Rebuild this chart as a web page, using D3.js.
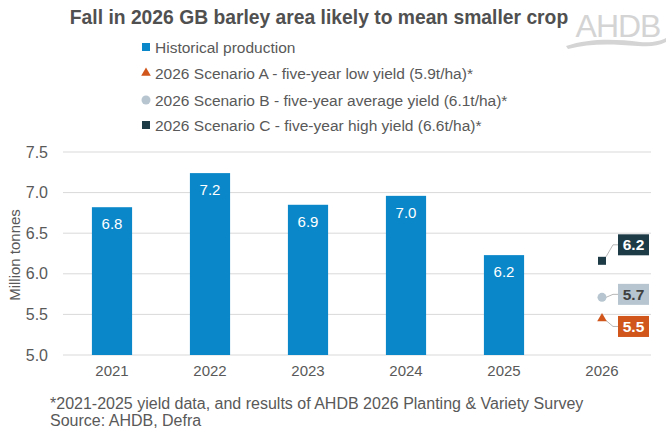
<!DOCTYPE html>
<html><head><meta charset="utf-8">
<script src="https://cdn.jsdelivr.net/npm/d3@7"></script>
<style>body{margin:0;background:#fff;} svg{display:block;font-family:"Liberation Sans",Arial,sans-serif;}</style>
</head><body>
<svg id="c" width="666" height="436"></svg>
<script>
const years = ["2021","2022","2023","2024","2025","2026"];
const histYears = ["2021","2022","2023","2024","2025"];
const histValues = [6.82, 7.24, 6.85, 6.96, 6.23];
const histLabels = ["6.8","7.2","6.9","7.0","6.2"];
const scenarioNames = ["2026 Scenario A - five-year low yield (5.9t/ha)*","2026 Scenario B - five-year average yield (6.1t/ha)*","2026 Scenario C - five-year high yield (6.6t/ha)*"];
const scenarioValues = [5.45, 5.71, 6.16];
const scenarioLabels = ["5.5","5.7","6.2"];
const yTicks = [5.0, 5.5, 6.0, 6.5, 7.0, 7.5];

const svg = d3.select("#c");
const x = d3.scaleBand().domain(years).range([63, 651]).paddingInner(0.59).paddingOuter(0.295);
const y = d3.scaleLinear().domain([5, 7.5]).range([355, 152]);
const grey = "#595959";

// title
svg.append("text").attr("x", 319).attr("y", 24).attr("text-anchor","middle")
  .attr("font-weight","bold").attr("font-size",19.3).attr("fill","#505050")
  .text("Fall in 2026 GB barley area likely to mean smaller crop");

// logo
const logo = svg.append("g");
logo.append("text").attr("x", 618).attr("y", 37).attr("text-anchor","middle")
  .attr("font-size", 32).attr("fill","#d4d4d4").attr("letter-spacing",-1).text("AHDB");
logo.append("path").attr("d","M566,46 C590,38 615,39 640,42 C652,43 660,41 666,38 L666,42 C658,46 650,47 638,46 C612,44 590,43 568,49 Z")
  .attr("fill","#d4d4d4");

// legend
const legendItems = [
  {label:"Historical production", shape:"square", color:"#0a87c9"},
  {label:scenarioNames[0], shape:"triangle", color:"#d0561b"},
  {label:scenarioNames[1], shape:"circle", color:"#b6c5cf"},
  {label:scenarioNames[2], shape:"square", color:"#1d3a47"}
];
const ly = [47, 73, 100, 125];
legendItems.forEach((d,i)=>{
  const g = svg.append("g").attr("transform",`translate(146,${ly[i]})`);
  if (d.shape==="square") g.append("rect").attr("x",-4).attr("y",-4).attr("width",8).attr("height",8).attr("fill",d.color);
  else if (d.shape==="circle") g.append("circle").attr("r",4.5).attr("fill",d.color);
  else g.append("path").attr("d",d3.symbol(d3.symbolTriangle,40)()).attr("fill",d.color);
  g.append("text").attr("x",9).attr("y",5.5).attr("font-size",15.5).attr("fill",grey).text(d.label);
});

// grid
svg.append("g").selectAll("line").data(yTicks).join("line")
  .attr("x1",63).attr("x2",651).attr("y1",d=>y(d)).attr("y2",d=>y(d))
  .attr("stroke","#d9d9d9").attr("stroke-width",1);

// y axis
const yAxis = svg.append("g").attr("transform","translate(54,0)")
  .call(d3.axisLeft(y).tickValues(yTicks).tickFormat(d3.format(".1f")).tickSize(0).tickPadding(6));
yAxis.select(".domain").remove();
yAxis.selectAll("text").attr("font-size",16).attr("fill",grey).attr("font-family","Liberation Sans, Arial, sans-serif");

svg.append("text").attr("transform","translate(20,255) rotate(-90)").attr("text-anchor","middle")
  .attr("font-size",15).attr("fill",grey).text("Million tonnes");

// x axis
const xAxis = svg.append("g").attr("transform","translate(0,359)")
  .call(d3.axisBottom(x).tickSize(0).tickPadding(6));
xAxis.select(".domain").remove();
xAxis.selectAll("text").attr("font-size",15).attr("fill",grey).attr("font-family","Liberation Sans, Arial, sans-serif");

// bars
svg.append("g").selectAll("rect").data(histYears).join("rect")
  .attr("x",d=>x(d)).attr("width",x.bandwidth())
  .attr("y",(d,i)=>y(histValues[i])).attr("height",(d,i)=>y(5)-y(histValues[i]))
  .attr("fill","#0a87c9");
svg.append("g").selectAll("text").data(histYears).join("text")
  .attr("x",d=>x(d)+x.bandwidth()/2).attr("y",(d,i)=>y(histValues[i])+22)
  .attr("text-anchor","middle").attr("font-size",15).attr("fill","#fff")
  .text((d,i)=>histLabels[i]);

// scenarios
const cx = x("2026") + x.bandwidth()/2;
const scen = [
  {v:scenarioValues[0], lab:scenarioLabels[0], shape:"triangle", color:"#d0561b", box:"#d0561b", tc:"#fff", dy:8},
  {v:scenarioValues[1], lab:scenarioLabels[1], shape:"circle", color:"#b6c5cf", box:"#b6c5cf", tc:"#404040", dy:-3},
  {v:scenarioValues[2], lab:scenarioLabels[2], shape:"square", color:"#1d3a47", box:"#1d3a47", tc:"#fff", dy:-16}
];
scen.forEach(s=>{
  const py = y(s.v);
  const g = svg.append("g");
  const bx = 618, by = py + s.dy;
  const sx = cx + 4, sy = py + (s.dy>0?2:(s.dy<-5?-4:0));
  g.append("path").attr("d",`M${sx},${sy} L${bx-5},${by} L${bx},${by}`)
    .attr("fill","none").attr("stroke","#a6a6a6").attr("stroke-width",0.8);
  if (s.shape==="square") g.append("rect").attr("x",cx-4).attr("y",py-4).attr("width",8).attr("height",8).attr("fill",s.color);
  else if (s.shape==="circle") g.append("circle").attr("cx",cx).attr("cy",py).attr("r",4.5).attr("fill",s.color);
  else g.append("path").attr("transform",`translate(${cx},${py})`).attr("d",d3.symbol(d3.symbolTriangle,40)()).attr("fill",s.color);
  g.append("rect").attr("x",bx).attr("y",by-10.5).attr("width",31).attr("height",21).attr("fill",s.box);
  g.append("text").attr("x",bx+15.5).attr("y",by+5.5).attr("text-anchor","middle")
    .attr("font-size",15.5).attr("font-weight","bold").attr("fill",s.tc).text(s.lab);
});

// footnotes
svg.append("text").attr("x",50).attr("y",409).attr("font-size",16).attr("fill",grey)
  .text("*2021-2025 yield data, and results of AHDB 2026 Planting & Variety Survey");
svg.append("text").attr("x",50).attr("y",426).attr("font-size",16).attr("fill",grey)
  .text("Source: AHDB, Defra");
</script>
</body></html>
